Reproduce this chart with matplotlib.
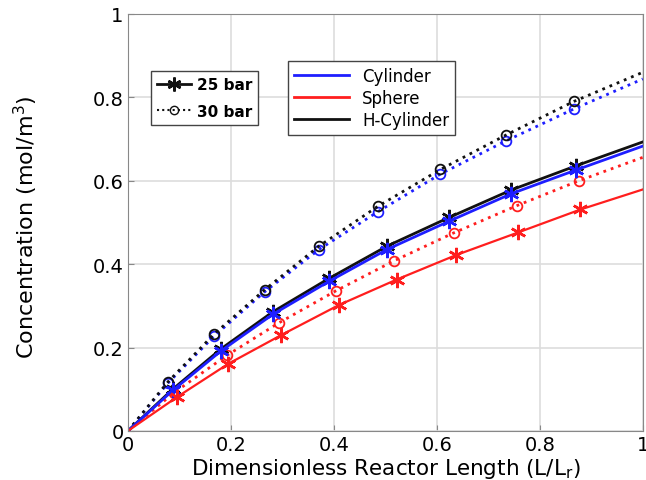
import matplotlib.pyplot as plt
from matplotlib.lines import Line2D

plt.rcParams["font.family"] = ["DejaVu Sans"]

# 25 bar (solid, asterisk markers)
x_cyl25 = [0, 0.087, 0.181, 0.282, 0.391, 0.503, 0.624, 0.745, 0.871, 1.0]
y_cyl25 = [0, 0.097, 0.192, 0.280, 0.359, 0.435, 0.503, 0.569, 0.626, 0.683]
x_hcyl25 = [0, 0.087, 0.181, 0.282, 0.391, 0.503, 0.624, 0.745, 0.871, 1.0]
y_hcyl25 = [0, 0.100, 0.197, 0.286, 0.366, 0.443, 0.512, 0.578, 0.636, 0.693]
x_sph25 = [0, 0.095, 0.195, 0.298, 0.410, 0.522, 0.638, 0.758, 0.879, 1.0]
y_sph25 = [0, 0.081, 0.161, 0.230, 0.302, 0.363, 0.422, 0.476, 0.531, 0.579]

# 30 bar (dotted, circle markers)
x_cyl30 = [0, 0.078, 0.168, 0.266, 0.371, 0.486, 0.607, 0.735, 0.866, 1.0]
y_cyl30 = [0, 0.115, 0.228, 0.334, 0.435, 0.526, 0.616, 0.696, 0.772, 0.844]
x_hcyl30 = [0, 0.078, 0.168, 0.266, 0.371, 0.486, 0.607, 0.735, 0.866, 1.0]
y_hcyl30 = [0, 0.118, 0.233, 0.339, 0.443, 0.539, 0.627, 0.710, 0.790, 0.860]
x_sph30 = [0, 0.090, 0.192, 0.293, 0.404, 0.517, 0.633, 0.755, 0.876, 1.0]
y_sph30 = [0, 0.092, 0.181, 0.259, 0.336, 0.408, 0.475, 0.540, 0.600, 0.656]

ticks = [0, 0.2, 0.4, 0.6, 0.8, 1]
tick_labels = ["0", "0.2", "0.4", "0.6", "0.8", "1"]

BLUE, RED, BLACK = "#1e1eff", "#ff1e1e", "#111111"
star = (6, 2, 0)

fig = plt.figure(figsize=(6.46, 4.81), dpi=100)
ax = fig.add_axes([0.198, 0.102, 0.797, 0.867])

dot = (0, (1, 1.8))
mk = slice(1, -1)
ax.plot(x_cyl30, y_cyl30, color=BLUE, ls=dot, lw=2, marker="o", ms=7, mfc="none", mew=1.3, markevery=mk)
ax.plot(x_hcyl30, y_hcyl30, color=BLACK, ls=dot, lw=2, marker="o", ms=7, mfc="none", mew=1.3, markevery=mk)
ax.plot(x_sph30, y_sph30, color=RED, ls=dot, lw=2, marker="o", ms=7, mfc="none", mew=1.3, markevery=mk)
ax.plot(x_hcyl25, y_hcyl25, color=BLACK, ls="-", lw=2, marker=star, ms=11, mew=1.8, markevery=mk)
ax.plot(x_cyl25, y_cyl25, color=BLUE, ls="-", lw=2, marker=star, ms=11, mew=1.8, markevery=mk)
ax.plot(x_sph25, y_sph25, color=RED, ls="-", lw=1.6, marker=star, ms=11, mew=1.8, markevery=mk)

ax.set_xlim(0, 1)
ax.set_ylim(0, 1)
ax.set_xticks(ticks)
ax.set_xticklabels(tick_labels)
ax.set_yticks(ticks)
ax.set_yticklabels(tick_labels)
ax.tick_params(direction="in", labelsize=14, length=4, color="#888888", pad=3)
ax.grid(True, color="#dddddd", lw=1.2)
ax.set_axisbelow(True)
for s in ax.spines.values():
    s.set_color("#888888")

ax.set_xlabel("Dimensionless Reactor Length (L/L$_\\mathregular{r}$)", fontsize=15.5, va="top")
ax.xaxis.set_label_coords(0.5, -0.06)
ax.set_ylabel("Concentration (mol/m$^\\mathregular{3}$)", fontsize=16, va="center")
ax.yaxis.set_label_coords(-0.198, 0.49)

h1 = [Line2D([], [], color=BLACK, lw=2, marker=star, ms=10, mew=1.8),
      Line2D([], [], color=BLACK, lw=1.5, ls=(0, (1, 1.5)), marker="o", ms=6, mfc="none")]
leg1 = ax.legend(h1, ["25 bar", "30 bar"], loc="upper left", bbox_to_anchor=(0.045, 0.863),
                 borderaxespad=0, prop={"weight": "bold", "size": 11}, fancybox=False,
                 edgecolor="#444444", framealpha=1, handlelength=2.2, handletextpad=0.4,
                 borderpad=0.4, labelspacing=0.75)
ax.add_artist(leg1)

h2 = [Line2D([], [], color=BLUE, lw=2),
      Line2D([], [], color=RED, lw=2),
      Line2D([], [], color=BLACK, lw=2)]
ax.legend(h2, ["Cylinder", "Sphere", "H-Cylinder"], loc="upper left", bbox_to_anchor=(0.311, 0.887),
          borderaxespad=0, prop={"size": 12}, fancybox=False, edgecolor="#444444", framealpha=1,
          handlelength=3.3, handletextpad=0.8, borderpad=0.35, labelspacing=0.25)

fig.savefig("out.png", dpi=100)
